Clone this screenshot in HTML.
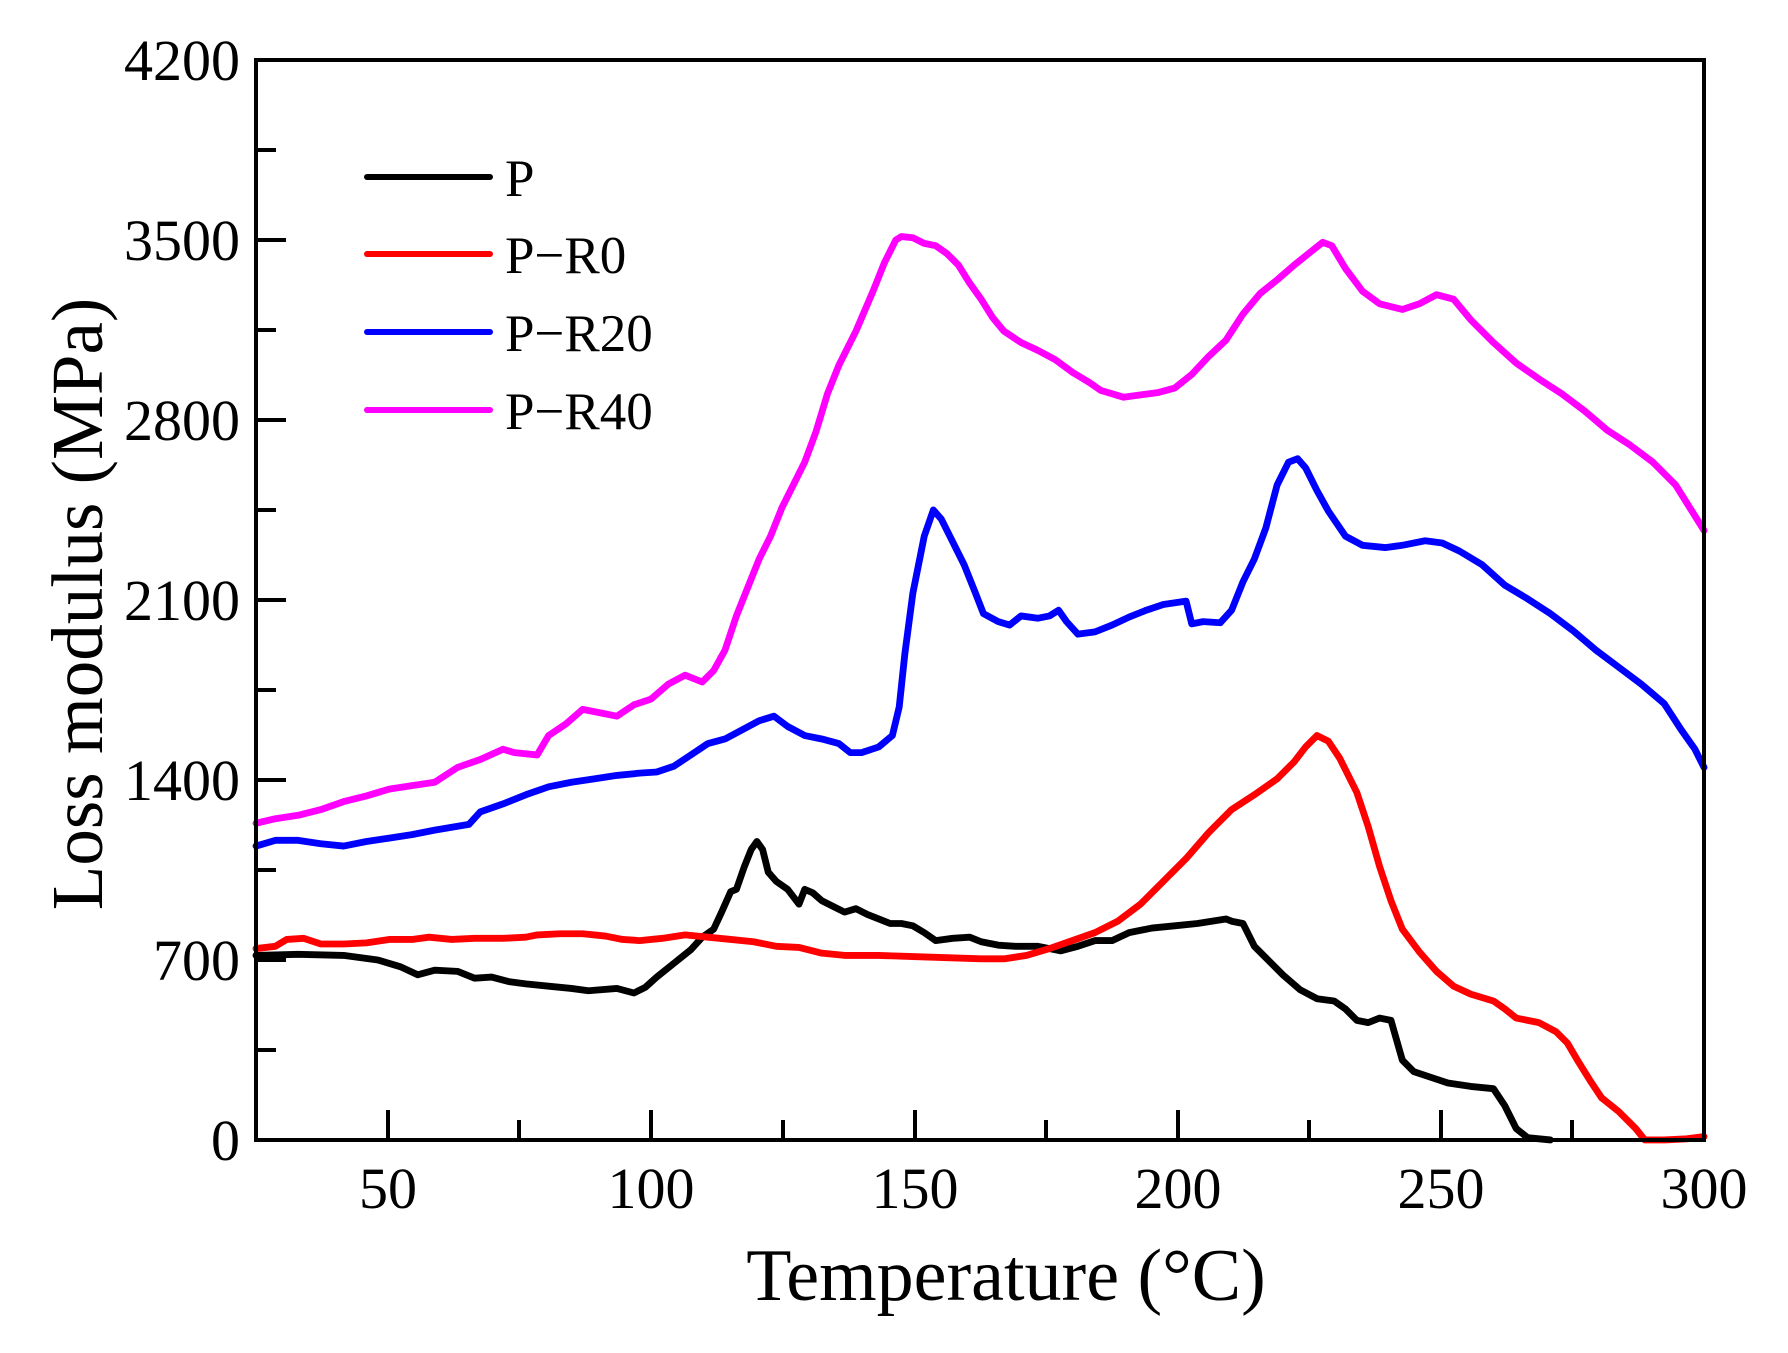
<!DOCTYPE html>
<html><head><meta charset="utf-8"><style>html,body{margin:0;padding:0;background:#fff}</style></head>
<body>
<svg width="1788" height="1348" viewBox="0 0 1788 1348" xmlns="http://www.w3.org/2000/svg" font-family="Liberation Serif, serif">
<rect width="1788" height="1348" fill="#fff"/>
<g transform="translate(256,60) scale(1.1384,1.1392) translate(-223,-52)" fill="none" stroke-width="6" stroke-linejoin="round" stroke-linecap="round">
<polyline stroke="#000" points="223,838 260,837 300,838 330,842 350,848 365,855 380,851 400,852 415,858 430,857 445,861 460,863 480,865 500,867 515,869 540,867 555,871 565,866 575,857 590,845 605,833 615,822 625,815 632,800 640,782 645,780 652,760 658,745 663,738 668,745 673,765 680,773 690,780 700,793 705,780 712,783 720,790 730,795 740,800 750,797 760,802 770,806 780,810 790,810 800,812 810,818 820,825 835,823 850,822 860,826 875,829 890,830 910,830 930,834 945,830 960,825 975,825 990,818 1010,814 1030,812 1050,810 1075,806 1080,808 1090,810 1100,830 1110,840 1125,855 1140,868 1155,876 1170,878 1180,885 1190,895 1200,897 1210,893 1220,895 1230,930 1240,940 1255,945 1270,950 1290,953 1310,955 1320,970 1330,990 1340,998 1360,1000"/>
<polyline stroke="#f00" points="223,832 240,830 250,824 265,823 280,828 300,828 320,827 340,824 360,824 375,822 395,824 415,823 440,823 460,822 470,820 490,819 510,819 530,821 545,824 560,825 580,823 600,820 620,822 640,824 660,826 680,830 700,831 720,836 740,838 770,838 800,839 830,840 860,841 880,841 900,838 920,832 940,825 960,818 980,808 1000,793 1020,773 1040,753 1060,730 1080,710 1100,697 1120,683 1135,668 1145,655 1155,645 1165,650 1175,665 1190,695 1200,725 1210,760 1220,790 1230,815 1245,835 1260,852 1275,865 1290,872 1310,878 1320,885 1330,893 1350,897 1365,905 1375,915 1385,932 1395,948 1405,963 1420,975 1435,990 1443,1000 1460,1000 1480,999 1495,997"/>
<polyline stroke="#00f" points="223,742 240,737 260,737 280,740 300,742 320,738 340,735 360,732 380,728 410,723 420,712 440,705 460,697 480,690 500,686 520,683 540,680 560,678 575,677 590,672 605,662 620,652 635,648 650,640 665,632 678,628 690,637 705,645 720,648 735,652 745,660 755,660 770,655 782,645 788,620 793,573 800,520 810,470 818,447 825,455 835,475 845,495 855,520 862,538 875,545 885,548 895,540 910,542 920,540 928,535 935,545 945,556 960,554 975,548 990,541 1005,535 1020,530 1040,527 1045,547 1055,545 1070,546 1080,535 1090,510 1100,490 1110,463 1120,425 1130,405 1138,402 1145,410 1155,430 1165,448 1180,470 1195,478 1215,480 1230,478 1250,474 1265,476 1280,483 1300,495 1320,513 1340,525 1360,538 1380,553 1400,570 1420,585 1440,600 1460,617 1475,640 1487,657 1495,673"/>
<polyline stroke="#f0f" points="223,722 240,718 260,715 280,710 300,703 320,698 340,692 360,689 380,686 400,673 420,666 440,657 450,660 470,662 480,645 495,635 510,622 525,625 540,628 555,618 570,613 585,600 600,592 615,598 625,588 635,570 645,540 655,515 665,490 675,470 685,445 695,425 705,405 715,378 725,345 735,320 750,290 765,255 775,230 785,210 790,207 800,208 810,213 820,215 830,222 840,232 850,248 860,262 870,278 880,290 895,300 910,307 925,315 940,326 955,335 965,342 985,348 1000,346 1015,344 1030,340 1045,328 1060,312 1075,298 1090,275 1105,257 1120,245 1135,232 1150,220 1160,212 1168,215 1180,235 1195,255 1210,266 1230,271 1245,266 1260,258 1275,262 1290,280 1310,300 1330,318 1350,332 1370,345 1390,360 1410,377 1430,390 1450,405 1470,425 1495,465"/>
</g>
<g stroke="#000" stroke-width="4" fill="none">
<rect x="256" y="60" width="1448" height="1080"/>
<path d="M256,60h30M256,240h30M256,420h30M256,600h30M256,780h30M256,960h30M256,150h20M256,330h20M256,510h20M256,690h20M256,870h20M256,1050h20"/>
<path d="M388,1140v-30M651,1140v-30M915,1140v-30M1178,1140v-30M1441,1140v-30M519,1140v-20M783,1140v-20M1046,1140v-20M1309,1140v-20M1572,1140v-20"/>
</g>
<g font-size="58" fill="#000" text-anchor="end">
<text x="240" y="80">4200</text><text x="240" y="260">3500</text><text x="240" y="440">2800</text><text x="240" y="620">2100</text><text x="240" y="800">1400</text><text x="240" y="980">700</text><text x="240" y="1160">0</text>
</g>
<g font-size="58" fill="#000" text-anchor="middle">
<text x="388" y="1208">50</text><text x="651" y="1208">100</text><text x="915" y="1208">150</text><text x="1178" y="1208">200</text><text x="1441" y="1208">250</text><text x="1704" y="1208">300</text>
</g>
<text x="1006" y="1300" font-size="74" text-anchor="middle">Temperature (°C)</text>
<text transform="translate(102,604) rotate(-90)" font-size="73" text-anchor="middle">Loss modulus (MPa)</text>
<g stroke-width="6" stroke-linecap="round">
<line x1="367" y1="177" x2="490" y2="177" stroke="#000"/>
<line x1="367" y1="254" x2="490" y2="254" stroke="#f00"/>
<line x1="367" y1="332" x2="490" y2="332" stroke="#00f"/>
<line x1="367" y1="410" x2="490" y2="410" stroke="#f0f"/>
</g>
<g font-size="53" fill="#000">
<text x="505" y="196">P</text><text x="505" y="273">P−R0</text><text x="505" y="351">P−R20</text><text x="505" y="429">P−R40</text>
</g>
</svg>
</body></html>
